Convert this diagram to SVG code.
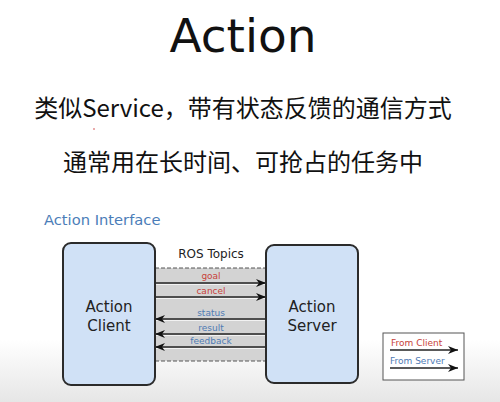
<svg xmlns="http://www.w3.org/2000/svg" width="500" height="402" viewBox="0 0 500 402">
<defs>
<linearGradient id="bg" x1="0" y1="0" x2="0" y2="1">
<stop offset="0" stop-color="#ffffff"/>
<stop offset="1" stop-color="#e6e6e6"/>
</linearGradient>
<marker id="ah" viewBox="0 0 10 8" refX="10" refY="4" markerWidth="10" markerHeight="8" markerUnits="userSpaceOnUse" orient="auto">
<path d="M0,0 L10,4 L0,8 L3,4 Z" fill="#111"/>
</marker>
<style>
.cjk{font-family:"Noto Sans CJK SC","Noto Sans",sans-serif;fill:#111}
.d{font-family:"DejaVu Sans",sans-serif}
.box{fill:#d0e1f6;stroke:#2b2b2b;stroke-width:2}
.arr{stroke:#222;stroke-width:1.3;fill:none;marker-end:url(#ah)}
.hl{stroke:#f2f2f2;stroke-width:1}
.red{fill:#c8423a;font-size:9px}
.blue{fill:#4f7bb4;font-size:9px}
.dash{stroke:#555;stroke-width:1;stroke-dasharray:4 2}
</style>
</defs>
<rect x="0" y="0" width="500" height="402" fill="#ffffff"/>
<rect x="0" y="340" width="500" height="62" fill="url(#bg)"/>
<text x="243" y="52" font-family="'DejaVu Sans',sans-serif" font-size="47" fill="#111" text-anchor="middle">Action</text>
<text class="cjk" x="243" y="117" font-size="24" text-anchor="middle">类似Service，带有状态反馈的通信方式</text>
<circle cx="94" cy="129" r="0.8" fill="#d04040"/>
<text class="cjk" x="243" y="171" font-size="24" text-anchor="middle">通常用在长时间、可抢占的任务中</text>
<text class="d" x="44" y="225" font-size="14.7" fill="#4b7db8">Action Interface</text>
<text class="d" x="211" y="258" font-size="12" fill="#222" text-anchor="middle">ROS Topics</text>
<g id="topics">
<rect x="155" y="268" width="111" height="93" fill="#d3d3d3"/>
<line class="dash" x1="155" y1="268" x2="266" y2="268"/>
<line class="dash" x1="155" y1="361" x2="266" y2="361"/>
</g>
<g id="connectors">
<line class="hl" x1="155" y1="284.5" x2="266" y2="284.5"/>
<line class="hl" x1="155" y1="298.5" x2="266" y2="298.5"/>
<line class="hl" x1="155" y1="320.5" x2="266" y2="320.5"/>
<line class="hl" x1="155" y1="335.5" x2="266" y2="335.5"/>
<line class="hl" x1="155" y1="348.5" x2="266" y2="348.5"/>
<line class="arr" x1="155" y1="283" x2="266" y2="283"/>
<line class="arr" x1="155" y1="297" x2="266" y2="297"/>
<line class="arr" x1="266" y1="319" x2="155" y2="319"/>
<line class="arr" x1="266" y1="334" x2="155" y2="334"/>
<line class="arr" x1="266" y1="347" x2="155" y2="347"/>
<text class="d red" x="211" y="279" text-anchor="middle">goal</text>
<text class="d red" x="211" y="294" text-anchor="middle">cancel</text>
<text class="d blue" x="211" y="316" text-anchor="middle">status</text>
<text class="d blue" x="211" y="331" text-anchor="middle">result</text>
<text class="d blue" x="211" y="344" text-anchor="middle">feedback</text>
</g>
<g id="client">
<rect class="box" x="63" y="243" width="92" height="142" rx="8"/>
<text class="d" x="109" y="312" font-size="15" fill="#222" text-anchor="middle">Action</text>
<text class="d" x="109" y="331" font-size="15" fill="#222" text-anchor="middle">Client</text>
</g>
<g id="server">
<rect class="box" x="266" y="245" width="92" height="138" rx="8"/>
<text class="d" x="312" y="312" font-size="15" fill="#222" text-anchor="middle">Action</text>
<text class="d" x="312" y="331" font-size="15" fill="#222" text-anchor="middle">Server</text>
</g>
<g id="legend">
<rect x="383" y="333" width="81" height="47" fill="#ffffff" stroke="#555" stroke-width="1"/>
<text class="d" x="391" y="346" font-size="9" fill="#c8423a">From Client</text>
<line class="arr" x1="390" y1="350" x2="458" y2="350"/>
<text class="d" x="390" y="364" font-size="9" fill="#4f7bb4">From Server</text>
<line class="arr" x1="390" y1="368" x2="458" y2="368"/>
</g>
</svg>
